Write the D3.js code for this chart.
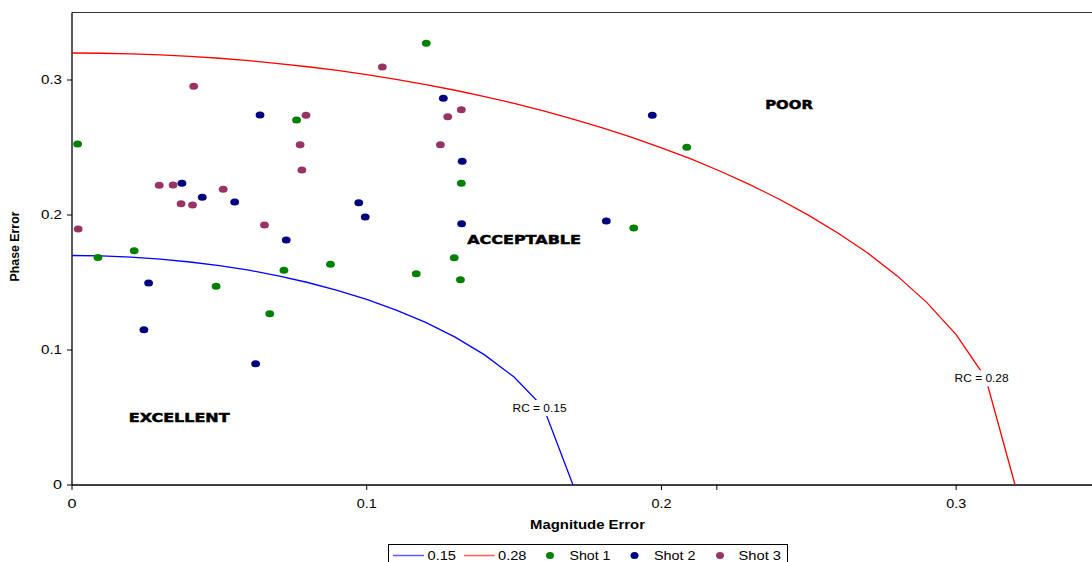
<!DOCTYPE html>
<html>
<head>
<meta charset="utf-8">
<script src="https://cdn.jsdelivr.net/npm/d3@7"></script>
<style>
  html, body { margin: 0; padding: 0; background: #fff; }
  svg { display: block; font-family: "Liberation Sans", Arial, sans-serif; }
</style>
</head>
<body>
<svg id="chart" width="1092" height="562"></svg>
<script>
// values
var xTicks = [0, 0.1, 0.2, 0.3];
var yTicks = [0, 0.1, 0.2, 0.3];
var xTickLabels = ['0', '0.1', '0.2', '0.3'];
var yTickLabels = ['0', '0.1', '0.2', '0.3'];
var strayTicks = [0.2188];

var curveX = [0, 0.01, 0.02, 0.03, 0.04, 0.05, 0.06, 0.07, 0.08, 0.09, 0.10, 0.11,
              0.12, 0.13, 0.14, 0.15, 0.16, 0.17, 0.18, 0.19, 0.20, 0.21, 0.22,
              0.23, 0.24, 0.25, 0.26, 0.27, 0.28, 0.29, 0.30, 0.31, 0.32];
var curve015Y = [0.170, 0.1697, 0.1688, 0.1673, 0.1652, 0.1625, 0.1591, 0.1549, 0.150,
                 0.1442, 0.1375, 0.1296, 0.1204, 0.1095, 0.0964, 0.080, 0.0574, 0];
var curve028Y = [0.320, 0.3198, 0.3194, 0.3186, 0.3175, 0.3161, 0.3143, 0.3122, 0.3098,
                 0.3071, 0.3040, 0.3005, 0.2966, 0.2924, 0.2877, 0.2827, 0.2771, 0.2711,
                 0.2646, 0.2575, 0.2498, 0.2415, 0.2324, 0.2225, 0.2117, 0.1997, 0.1865,
                 0.1718, 0.1549, 0.1353, 0.1114, 0.0794, 0];

var shot1 = [[0.0019, 0.2526], [0.0088, 0.1686], [0.0211, 0.1736], [0.0489, 0.1472],
             [0.0671, 0.1269], [0.0719, 0.1590], [0.0762, 0.2704], [0.0877, 0.1635],
             [0.1168, 0.1565], [0.1202, 0.3272], [0.1297, 0.1684], [0.1318, 0.1521],
             [0.1321, 0.2235], [0.1906, 0.1904], [0.2086, 0.2501]];
var shot2 = [[0.0244, 0.1150], [0.0260, 0.1496], [0.0373, 0.2235], [0.0442, 0.2131],
             [0.0552, 0.2096], [0.0623, 0.0899], [0.0638, 0.2741], [0.0727, 0.1815],
             [0.0973, 0.2091], [0.0995, 0.1985], [0.1260, 0.2864], [0.1322, 0.1936],
             [0.1324, 0.2398], [0.1813, 0.1956], [0.1969, 0.2738]];
var shot3 = [[0.0021, 0.1896], [0.0296, 0.2220], [0.0343, 0.2222], [0.0370, 0.2084],
             [0.0409, 0.2074], [0.0413, 0.2953], [0.0513, 0.2190], [0.0653, 0.1926],
             [0.0774, 0.2521], [0.0780, 0.2333], [0.0794, 0.2738], [0.1053, 0.3096],
             [0.1250, 0.2521], [0.1275, 0.2728], [0.1321, 0.2780]];

var seriesNames = ['0.15', '0.28', 'Shot 1', 'Shot 2', 'Shot 3'];
var rcLabels = ['RC = 0.15', 'RC = 0.28'];
var regionNames = ['EXCELLENT', 'ACCEPTABLE', 'POOR'];
var regionPos = [[0.0193, 0.050], [0.1341, 0.182], [0.2352, 0.282]];

var x = d3.scaleLinear().domain([0, 0.35]).range([72, 1103.5]);
var y = d3.scaleLinear().domain([0, 0.35]).range([485, 12.5]);

var svg = d3.select('#chart');

// text in the picture is stretched sideways, so fit it to measured widths
function stretched(g, str, px, py, size, weight, width, anchor, family) {
    return g.append('text')
        .attr('x', px)
        .attr('y', py)
        .attr('dy', '0.35em')
        .attr('font-size', size)
        .attr('font-weight', weight)
        .attr('font-family', family || null)
        .attr('text-anchor', anchor || 'middle')
        .attr('textLength', width)
        .attr('lengthAdjust', 'spacingAndGlyphs')
        .attr('fill', '#000')
        .text(str);
}

/////////////////////////////
// AXES
/////////////////////////////
var axes = svg.append('g').attr('class', 'axes');

axes.append('line')
    .attr('x1', x(0)).attr('x2', 1092)
    .attr('y1', y(0.35)).attr('y2', y(0.35))
    .attr('stroke', '#333').attr('stroke-width', 1.2);

axes.append('line')
    .attr('x1', x(0)).attr('x2', 1092)
    .attr('y1', y(0)).attr('y2', y(0))
    .attr('stroke', '#000').attr('stroke-width', 1.3);

axes.append('line')
    .attr('x1', x(0)).attr('x2', x(0))
    .attr('y1', y(0.35)).attr('y2', y(0))
    .attr('stroke', '#000').attr('stroke-width', 1.3);

axes.selectAll('.ytick')
    .data(yTicks)
    .enter()
    .append('line')
        .attr('x1', x(0) - 5).attr('x2', x(0))
        .attr('y1', (d) => y(d)).attr('y2', (d) => y(d))
        .attr('stroke', '#000');

axes.selectAll('.xtick')
    .data(xTicks.concat(strayTicks))
    .enter()
    .append('line')
        .attr('x1', (d) => x(d)).attr('x2', (d) => x(d))
        .attr('y1', y(0)).attr('y2', y(0) + 5)
        .attr('stroke', '#000');

yTicks.forEach((d, i) => {
    var w = yTickLabels[i].length == 1 ? 9 : 21;
    stretched(axes, yTickLabels[i], x(0) - 10, y(d), 12, 'normal', w, 'end');
});
xTicks.forEach((d, i) => {
    var w = xTickLabels[i].length == 1 ? 9 : 20;
    stretched(axes, xTickLabels[i], x(d), 503.5, 12, 'normal', w, 'middle');
});

stretched(axes, 'Magnitude Error', 587.5, 525, 12, 'bold', 115, 'middle');

axes.append('text')
    .attr('transform', 'translate(15,246.5) rotate(-90)')
    .attr('dy', '0.35em')
    .attr('text-anchor', 'middle')
    .attr('font-size', 12)
    .attr('font-weight', 'bold')
    .attr('textLength', 70)
    .attr('lengthAdjust', 'spacingAndGlyphs')
    .text('Phase Error');

/////////////////////////////
// RC CURVES
/////////////////////////////
var line = d3.line().x((d) => x(d[0])).y((d) => y(d[1]));
var curves = [
    { name: seriesNames[0], color: '#0000ff', pts: curve015Y.map((v, i) => [curveX[i], v]) },
    { name: seriesNames[1], color: '#ff0000', pts: curve028Y.map((v, i) => [curveX[i], v]) }
];

svg.append('g')
    .attr('class', 'curves')
    .selectAll('path')
    .data(curves)
    .enter()
    .append('path')
        .attr('d', (c) => line(c.pts))
        .attr('fill', 'none')
        .attr('stroke', (c) => c.color)
        .attr('stroke-width', 1.3);

// labels sit on the second-to-last vertex, white box cuts the line
var rcG = svg.append('g').attr('class', 'rc-labels');
curves.forEach((c, i) => {
    var p = c.pts[c.pts.length - 2];
    var cx = x(p[0]) - 4, cy = y(p[1]) + 0.5;
    rcG.append('rect')
        .attr('x', cx - 28).attr('y', cy - 8)
        .attr('width', 56).attr('height', 16)
        .attr('fill', '#fff');
    stretched(rcG, rcLabels[i], cx, cy, 10.5, 'normal', 54, 'middle');
});

/////////////////////////////
// SHOTS
/////////////////////////////
var shots = [
    { name: seriesNames[2], color: '#008000', pts: shot1 },
    { name: seriesNames[3], color: '#000080', pts: shot2 },
    { name: seriesNames[4], color: '#993366', pts: shot3 }
];

shots.forEach((s) => {
    svg.append('g')
        .attr('class', 'shot')
        .selectAll('ellipse')
        .data(s.pts)
        .enter()
        .append('ellipse')
            .attr('cx', (d) => x(d[0]))
            .attr('cy', (d) => y(d[1]))
            .attr('rx', 4.4)
            .attr('ry', 3.5)
            .attr('fill', s.color);
});

/////////////////////////////
// REGION LABELS
/////////////////////////////
var regionWidths = [100.7, 113.7, 47.7];
var regions = svg.append('g').attr('class', 'regions');
regionNames.forEach((r, i) => {
    var t = stretched(regions, r, x(regionPos[i][0]), y(regionPos[i][1]), 12.5, 'bold',
        regionWidths[i], 'start', '"DejaVu Sans", sans-serif');
    t.attr('stroke', '#000').attr('stroke-width', 0.5);
});

/////////////////////////////
// LEGEND
/////////////////////////////
var legend = svg.append('g').attr('class', 'legend');
var ly = 555.5;
legend.append('rect')
    .attr('x', 388.5).attr('y', 544.5)
    .attr('width', 399).attr('height', 30)
    .attr('fill', '#fff')
    .attr('stroke', '#000');

var legendItems = [
    { kind: 'line', color: '#5a5aff', x0: 393, x1: 424, tx: 427.5, tw: 28.5 },
    { kind: 'line', color: '#ff5a5a', x0: 464, x1: 494.5, tx: 498, tw: 28.5 },
    { kind: 'dot', color: '#008000', cx: 550, tx: 569.5, tw: 41 },
    { kind: 'dot', color: '#000080', cx: 634.5, tx: 654, tw: 41.5 },
    { kind: 'dot', color: '#993366', cx: 720, tx: 738.5, tw: 42.5 }
];

legendItems.forEach((it, i) => {
    if (it.kind == 'line') {
        legend.append('line')
            .attr('x1', it.x0).attr('x2', it.x1)
            .attr('y1', ly).attr('y2', ly)
            .attr('stroke', it.color)
            .attr('stroke-width', 1.5);
    } else {
        legend.append('ellipse')
            .attr('cx', it.cx).attr('cy', ly)
            .attr('rx', 4).attr('ry', 3.6)
            .attr('fill', it.color);
    }
    stretched(legend, seriesNames[i], it.tx, ly, 12.5, 'normal', it.tw, 'start');
});
</script>
</body>
</html>
